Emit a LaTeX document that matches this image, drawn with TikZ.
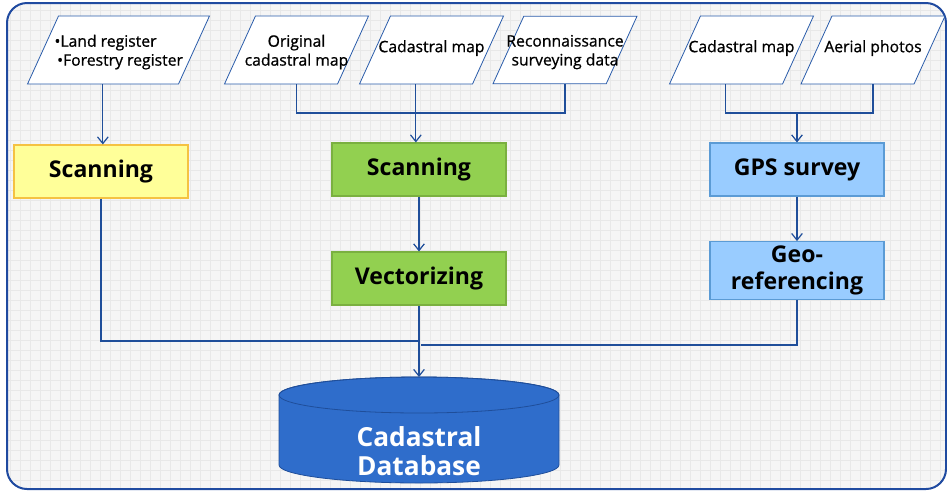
\documentclass[tikz,border=0pt]{standalone}
\usepackage{fontspec}
\setmainfont{Open Sans}
\newfontfamily\srcfont[FakeBold=0.8]{Open Sans}
\usetikzlibrary{shapes.geometric,arrows.meta}

\definecolor{linkblue}{HTML}{1F4E9A}
\definecolor{frameblue}{HTML}{1F4AA0}
\definecolor{srcborder}{HTML}{2A5CAA}
\definecolor{scanyellow}{HTML}{FFFF99}
\definecolor{scanyellowline}{HTML}{F5C242}
\definecolor{procgreen}{HTML}{92D050}
\definecolor{procgreenline}{HTML}{7AB040}
\definecolor{procblue}{HTML}{99CCFF}
\definecolor{procblueline}{HTML}{5B9BD5}
\definecolor{dbblue}{HTML}{2F6DCB}
\definecolor{dbline}{HTML}{1F4E9A}

% fixed-width line inside an input box, text may run over the slanted edges
\newcommand{\srcline}[2][-3.5pt]{\raisebox{#1}[\height][\depth]{\makebox[56pt]{#2}}}

\begin{document}
\begin{tikzpicture}[
  x=0.75pt, y=-0.75pt,
  >={Straight Barb[length=5pt,width=8pt]},
  link/.style={draw=linkblue, line width=0.9pt},
  source/.style={trapezium, trapezium left angle=65.5, trapezium right angle=114.5,
    trapezium stretches body, draw=srcborder, fill=white, line width=0.6pt,
    minimum width=108pt, inner xsep=2pt, inner ysep=10.55pt, align=center,
    execute at begin node=\rule{0pt}{7.5pt}, execute at end node=\rule[-6.7pt]{0pt}{6.7pt},
    font=\srcfont\fontsize{11.8}{14.2}\selectfont},
  one_line/.style={inner ysep=17.65pt},
  process/.style={rectangle, minimum width=130.5pt, minimum height=39.75pt,
    line width=0.8pt, align=center, font=\fontsize{17.3}{20}\selectfont\bfseries},
  yellow_box/.style={process, fill=scanyellow, draw=scanyellowline},
  green_box/.style={process, fill=procgreen, draw=procgreenline},
  blue_box/.style={process, fill=procblue, draw=procblueline},
  database/.style={rectangle, minimum width=210pt, minimum height=79.5pt, inner sep=0pt},
  db_shape/.style={fill=dbblue, draw=dbline, line width=0.6pt},
  db_text/.style={text=white, align=center, font=\fontsize{19.7}{22}\selectfont\bfseries},
  gridline/.style={draw=black!9, line width=0.4pt}
  ]
	\useasboundingbox (0,0) rectangle (947,490);

	% background
	\fill[black!4, rounded corners=15pt] (7,3) rectangle (946,489);
	\begin{scope}
		\clip[rounded corners=15pt] (7,3) rectangle (946,489);
		\foreach \gx in {10,20,...,940}
			\draw[gridline] (\gx,3) -- (\gx,489);
		\foreach \gy in {10,20,...,480}
			\draw[gridline] (7,\gy) -- (946,\gy);
	\end{scope}
	\draw[frameblue, line width=1.5pt, rounded corners=15pt] (7,3) rectangle (946,489);

	% inputs
	\node[source, align=left] (land) at (118.5,50)
		{\raisebox{-3.5pt}[\height][\depth]{\makebox[86pt][l]{\hspace*{-5pt}•Land register}}\\
		 \raisebox{-3.5pt}[\height][\depth]{\makebox[86pt][l]{\hspace*{-3pt}•Forestry register}}};
	\node[source] (origmap) at (296.5,50) {\srcline{Original}\\ \srcline{cadastral map}};
	\node[source, one_line] (cadmap) at (431.5,50) {\srcline[-0.5pt]{Cadastral map}};
	\node[source] (recon) at (565,50) {\srcline{Reconnaissance}\\ \srcline{surveying data}};
	\node[source, one_line] (cadmap2) at (741.5,50) {\srcline[-0.5pt]{Cadastral map}};
	\node[source, one_line] (aerial) at (873,50) {\srcline[-0.5pt]{Aerial photos}};

	% processes
	\node[yellow_box] (scan1) at (101,171.5) {Scanning};
	\node[green_box] (scan2) at (419,169.5) {Scanning};
	\node[green_box] (vect) at (419,278.5) {Vectorizing};
	\node[blue_box] (gps) at (797,169.5) {GPS survey};
	\node[blue_box] (georef) at (797,270.5) {Geo-\\referencing};

	% database cylinder
	\node[database, anchor=north] (db) at (419,377) {};
	\path[db_shape] (279,395) -- (279,465)
		arc[start angle=180, end angle=360, x radius=105pt, y radius=13.5pt]
		-- (559,395) arc[start angle=0, end angle=180, x radius=105pt, y radius=13.5pt] -- cycle;
	\draw[dbline, line width=0.6pt] (419,395) ellipse[x radius=105pt, y radius=13.5pt];
	\node[db_text] (dbname) at (419,451) {Cadastral\\Database};

	% joints
	\coordinate (midjoin) at (419,113);
	\coordinate (rightjoin) at (797,113);
	\coordinate (leftdrop) at (419,341);
	\coordinate (rightdrop) at (421,345);

	\draw[link, ->] (land.bottom side) -- (land.bottom side |- scan1.north);
	\draw[link] (origmap.south) |- (midjoin) -| (recon.south);
	\draw[link, ->] (cadmap.bottom side) -- (cadmap.bottom side |- scan2.north);
	\draw[link, ->] (scan2) -- (vect);
	\draw[link, ->] (vect.south) -- (db.north);
	\draw[link] (scan1.south) |- (leftdrop);

	\draw[link] (cadmap2.bottom side) |- (rightjoin) -| (aerial.south);
	\draw[link, ->] (rightjoin) -- (gps.north);
	\draw[link, ->] (gps) -- (georef);
	\draw[link] (georef.south) |- (rightdrop);
\end{tikzpicture}
\end{document}
